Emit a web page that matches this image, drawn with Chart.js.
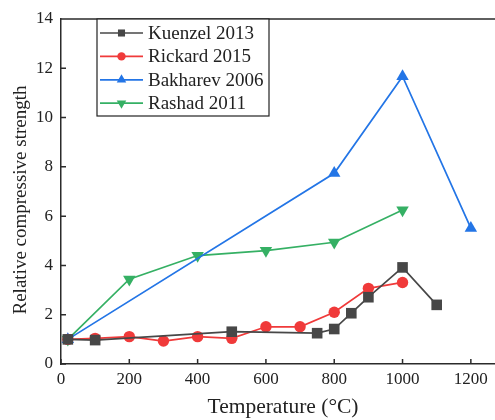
<!DOCTYPE html>
<html>
<head>
<meta charset="utf-8">
<script src="https://cdn.jsdelivr.net/npm/chart.js@4.4.1/dist/chart.umd.min.js"></script>
<style>
  html, body { margin: 0; padding: 0; background: #fff; overflow: hidden; }
  #wrap { width: 520px; height: 420px; }
</style>
</head>
<body>
<div id="wrap"><canvas id="cv" width="520" height="420"></canvas></div>
<script>
// Temperature (°C) and relative compressive strength for each study
const kuenzelT = [20, 100, 500, 750, 800, 850, 900, 1000, 1100];
const kuenzelS = [1.0, 0.97, 1.31, 1.25, 1.42, 2.06, 2.71, 3.92, 2.4];

const rickardT = [20, 100, 200, 300, 400, 500, 600, 700, 800, 900, 1000];
const rickardS = [1.0, 1.04, 1.11, 0.93, 1.11, 1.04, 1.51, 1.51, 2.1, 3.07, 3.31];

const bakharevT = [20, 800, 1000, 1200];
const bakharevS = [1.0, 7.74, 11.67, 5.51];

const rashadT = [20, 200, 400, 600, 800, 1000];
const rashadS = [1.0, 3.44, 4.4, 4.6, 4.94, 6.25];

const xTicks = [0, 200, 400, 600, 800, 1000, 1200];
const yTicks = [0, 2, 4, 6, 8, 10, 12, 14];

const FONT = '"Liberation Serif", "Times New Roman", serif';
const AXIS = '#2b2b2b';
const TEXT = '#222';

function pts(xs, ys) {
    return xs.map((x, i) => ({ x: x, y: ys[i] }));
}

function series(label, xs, ys, color, style, radius, legendRadius, rot) {
    return {
        label: label,
        data: pts(xs, ys),
        borderColor: color,
        backgroundColor: color,
        borderWidth: 1.7,
        pointStyle: style,
        pointRadius: radius,
        pointRotation: rot || 0,
        pointBorderWidth: 0,
        legendRadius: legendRadius,
        tension: 0
    };
}

// Inward tick marks, top/right frame, y title and the boxed legend
const framePlugin = {
    id: 'frame',
    afterDraw(chart) {
        const ctx = chart.ctx;
        const a = chart.chartArea;
        const xs = chart.scales.x, ys = chart.scales.y;
        ctx.save();
        ctx.strokeStyle = AXIS;
        ctx.lineWidth = 1.5;
        ctx.beginPath();
        ctx.moveTo(a.left, a.top);
        ctx.lineTo(a.right, a.top);
        ctx.lineTo(a.right, a.bottom);
        for (const v of xTicks) {
            const px = xs.getPixelForValue(v);
            ctx.moveTo(px, a.bottom);
            ctx.lineTo(px, a.bottom - 5);
        }
        for (const v of yTicks) {
            const py = ys.getPixelForValue(v);
            ctx.moveTo(a.left, py);
            ctx.lineTo(a.left + 5, py);
        }
        ctx.stroke();

        // y axis title
        ctx.save();
        ctx.translate(21, 200);
        ctx.rotate(-Math.PI / 2);
        ctx.fillStyle = TEXT;
        ctx.font = '19px ' + FONT;
        ctx.textAlign = 'center';
        ctx.textBaseline = 'middle';
        ctx.fillText('Relative compressive strength', 0, 0);
        ctx.restore();

        // legend
        const lx = 97, ly = a.top, lw = 172, lh = 97;
        ctx.lineWidth = 1.2;
        ctx.strokeStyle = '#222';
        ctx.fillStyle = '#fff';
        ctx.fillRect(lx, ly, lw, lh);
        ctx.strokeRect(lx, ly, lw, lh);
        chart.data.datasets.forEach((ds, i) => {
            const cy = ly + 14 + i * 23.4;
            ctx.strokeStyle = ds.borderColor;
            ctx.lineWidth = ds.borderWidth;
            ctx.beginPath();
            ctx.moveTo(lx + 3, cy);
            ctx.lineTo(lx + 46, cy);
            ctx.stroke();
            ctx.fillStyle = ds.backgroundColor;
            Chart.helpers.drawPoint(ctx, {
                pointStyle: ds.pointStyle,
                rotation: ds.pointRotation,
                radius: ds.legendRadius,
                borderWidth: 0
            }, lx + 24.5, cy);
            ctx.fillStyle = TEXT;
            ctx.font = '19px ' + FONT;
            ctx.textBaseline = 'middle';
            ctx.textAlign = 'left';
            ctx.fillText(ds.label, lx + 51, cy + 1);
        });
        ctx.restore();
    }
};

const datasets = [
    series('Kuenzel 2013', kuenzelT, kuenzelS, '#474747', 'rect', 7.5, 5),
    series('Rickard 2015', rickardT, rickardS, '#f03a3a', 'circle', 5.7, 4.2),
    series('Bakharev 2006', bakharevT, bakharevS, '#2375e6', 'triangle', 7.2, 5.5),
    series('Rashad 2011', rashadT, rashadS, '#35b064', 'triangle', 7.2, 5.5, 180)
];

new Chart(document.getElementById('cv'), {
    type: 'line',
    data: { datasets: datasets },
    options: {
        responsive: false,
        animation: false,
        layout: { padding: { top: 19, right: 15, left: 0, bottom: 0 } },
        plugins: { legend: { display: false }, tooltip: { enabled: false } },
        scales: {
            x: {
                type: 'linear',
                min: 0,
                max: 1300,
                afterBuildTicks: s => { s.ticks = xTicks.map(v => ({ value: v })); },
                afterFit: s => { s.height = 56; },
                grid: { display: false, drawTicks: false },
                border: { display: true, color: AXIS, width: 1.5 },
                ticks: { color: TEXT, font: { family: FONT, size: 17 }, padding: 5, maxRotation: 0,
                         callback: v => String(v) },
                title: { display: true, text: 'Temperature (°C)', color: TEXT,
                         font: { family: FONT, size: 21.5 }, padding: { top: 0, bottom: 0 } }
            },
            y: {
                min: 0,
                max: 14,
                afterBuildTicks: s => { s.ticks = yTicks.map(v => ({ value: v })); },
                afterFit: s => { s.width = 61; },
                grid: { display: false, drawTicks: false },
                border: { display: true, color: AXIS, width: 1.5 },
                ticks: { color: TEXT, font: { family: FONT, size: 17 }, padding: 8,
                         callback: v => String(v) }
            }
        }
    },
    plugins: [framePlugin]
});
</script>
</body>
</html>
